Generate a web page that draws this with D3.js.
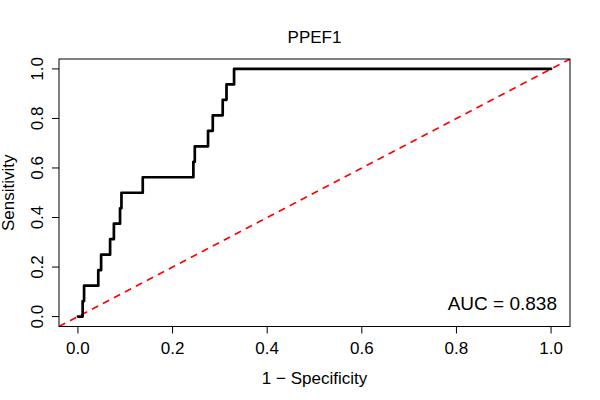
<!DOCTYPE html>
<html>
<head>
<meta charset="utf-8">
<script src="https://cdn.jsdelivr.net/npm/d3@7"></script>
<style>
  body { margin: 0; background: #fff; }
  text { font-family: "Liberation Sans", Arial, Helvetica, sans-serif; }
</style>
</head>
<body>
<div id="chart"></div>
<script>
// ROC curve vertices: each point starts a horizontal run (step after)
var fpr = [0, 0.01, 0.013, 0.043, 0.049, 0.068, 0.076, 0.089, 0.092, 0.137,
           0.244, 0.247, 0.275, 0.285, 0.306, 0.314, 0.33, 1]
var tpr = [0, 0.0625, 0.125, 0.1875, 0.25, 0.3125, 0.375, 0.4375, 0.5, 0.5625,
           0.625, 0.6875, 0.75, 0.8125, 0.875, 0.9375, 1, 1]
var ticks = [0, 0.2, 0.4, 0.6, 0.8, 1]
var title = "PPEF1"
var aucLabel = "AUC = 0.838"

var w = 600, h = 400
// plot box edges (note: "top" is a reserved window global, so use box*)
var boxL = 59, boxR = 570, boxT = 59, boxB = 326.5

// R style axes: 4% padding on each side of [0,1]
var x = d3.scaleLinear().domain([-0.04, 1.04]).range([boxL, boxR])
var y = d3.scaleLinear().domain([-0.04, 1.04]).range([boxB, boxT])

var svg = d3.select("#chart").append("svg")
    .attr("width", w)
    .attr("height", h)

svg.append("defs").append("clipPath").attr("id", "plotclip")
    .append("rect")
    .attr("x", boxL).attr("y", boxT)
    .attr("width", boxR - boxL).attr("height", boxB - boxT)

// chance diagonal
svg.append("line")
    .attr("clip-path", "url(#plotclip)")
    .attr("x1", x(x.domain()[0])).attr("y1", y(y.domain()[0]))
    .attr("x2", x(x.domain()[1])).attr("y2", y(y.domain()[1]))
    .attr("stroke", "#ff0000")
    .attr("stroke-width", 1.6)
    .attr("stroke-dasharray", "7,5.4")

// the roc curve
var pts = fpr.map(function (d, i) { return [d, tpr[i]] })
var line = d3.line()
    .x(function (d) { return x(d[0]) })
    .y(function (d) { return y(d[1]) })
    .curve(d3.curveStepAfter)

svg.append("path")
    .datum(pts)
    .attr("d", line)
    .attr("fill", "none")
    .attr("stroke", "#000")
    .attr("stroke-width", 2.7)
    .attr("stroke-linejoin", "round")
    .attr("stroke-linecap", "round")

// box
svg.append("rect")
    .attr("x", boxL).attr("y", boxT)
    .attr("width", boxR - boxL).attr("height", boxB - boxT)
    .attr("fill", "none")
    .attr("stroke", "#000")
    .attr("stroke-width", 1)

// x axis ticks + labels
var xt = svg.append("g")
xt.selectAll("line").data(ticks).enter().append("line")
    .attr("x1", function (d) { return x(d) }).attr("x2", function (d) { return x(d) })
    .attr("y1", boxB).attr("y2", boxB + 7)
    .attr("stroke", "#000")
xt.selectAll("text").data(ticks).enter().append("text")
    .attr("x", function (d) { return x(d) })
    .attr("y", 353.5)
    .attr("text-anchor", "middle")
    .attr("font-size", 17)
    .text(function (d) { return d.toFixed(1) })

// y axis ticks + labels (rotated, like R las=0)
var yt = svg.append("g")
yt.selectAll("line").data(ticks).enter().append("line")
    .attr("x1", boxL).attr("x2", boxL - 7)
    .attr("y1", function (d) { return y(d) }).attr("y2", function (d) { return y(d) })
    .attr("stroke", "#000")
yt.selectAll("text").data(ticks).enter().append("text")
    .attr("transform", function (d) { return "translate(42.5," + y(d) + ") rotate(-90)" })
    .attr("text-anchor", "middle")
    .attr("font-size", 17)
    .text(function (d) { return d.toFixed(1) })

// titles
svg.append("text")
    .attr("x", (boxL + boxR) / 2).attr("y", 43)
    .attr("text-anchor", "middle")
    .attr("font-size", 17)
    .text(title)

svg.append("text")
    .attr("x", (boxL + boxR) / 2).attr("y", 384)
    .attr("text-anchor", "middle")
    .attr("font-size", 17)
    .text("1 \u2212 Specificity")

svg.append("text")
    .attr("transform", "translate(14," + (boxT + boxB) / 2 + ") rotate(-90)")
    .attr("text-anchor", "middle")
    .attr("font-size", 17)
    .text("Sensitivity")

// auc annotation
svg.append("text")
    .attr("x", 557).attr("y", 310)
    .attr("text-anchor", "end")
    .attr("font-size", 19)
    .text(aucLabel)
</script>
</body>
</html>
